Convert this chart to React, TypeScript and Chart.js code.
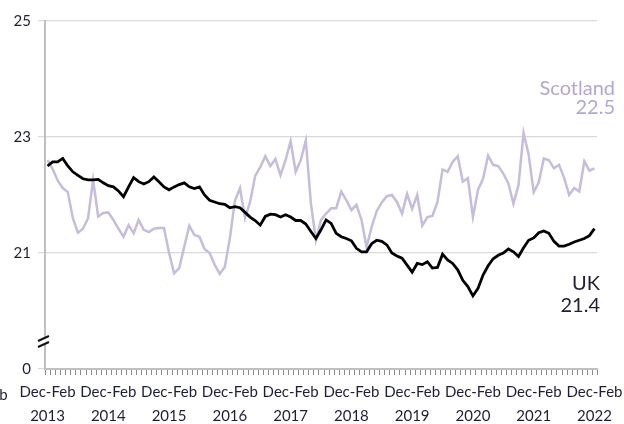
import React, { useEffect, useRef } from 'react';
import { Chart, registerables } from 'chart.js';

Chart.register(...registerables);

const periodLabel = 'Dec-Feb';
const years = ['2013', '2014', '2015', '2016', '2017', '2018', '2019', '2020', '2021', '2022'];
const rollingPeriods = ['Dec-Feb', 'Jan-Mar', 'Feb-Apr', 'Mar-May', 'Apr-Jun', 'May-Jul', 'Jun-Aug', 'Jul-Sep', 'Aug-Oct', 'Sep-Nov', 'Oct-Dec', 'Nov-Jan'];

const ukValues = [
  22.50, 22.57, 22.57, 22.63, 22.50, 22.40, 22.34, 22.28, 22.26, 22.26, 22.27, 22.21,
  22.16, 22.14, 22.07, 21.97, 22.14, 22.30, 22.23, 22.19, 22.23, 22.31, 22.23, 22.14,
  22.09, 22.14, 22.18, 22.21, 22.14, 22.11, 22.14, 22.00, 21.91, 21.88, 21.85, 21.84,
  21.78, 21.80, 21.78, 21.70, 21.62, 21.56, 21.48, 21.63, 21.67, 21.66, 21.62, 21.66,
  21.62, 21.56, 21.56, 21.50, 21.37, 21.25, 21.40, 21.57, 21.51, 21.34, 21.28, 21.25,
  21.21, 21.08, 21.02, 21.02, 21.16, 21.22, 21.20, 21.14, 21.00, 20.95, 20.91, 20.79,
  20.67, 20.82, 20.80, 20.85, 20.74, 20.75, 20.98, 20.88, 20.82, 20.71, 20.53, 20.42,
  20.26, 20.39, 20.62, 20.78, 20.90, 20.96, 21.00, 21.07, 21.02, 20.94, 21.09, 21.22,
  21.26, 21.35, 21.38, 21.34, 21.20, 21.12, 21.12, 21.15, 21.19, 21.22, 21.25, 21.30,
  21.42,
];

const scotlandValues = [
  22.60, 22.45, 22.25, 22.12, 22.05, 21.60, 21.35, 21.42, 21.60, 22.26, 21.63, 21.69,
  21.70, 21.57, 21.42, 21.28, 21.48, 21.34, 21.57, 21.40, 21.36, 21.42, 21.43, 21.43,
  21.00, 20.65, 20.74, 21.11, 21.47, 21.31, 21.28, 21.07, 21.00, 20.80, 20.64, 20.76,
  21.25, 21.90, 22.12, 21.60, 21.88, 22.33, 22.48, 22.67, 22.50, 22.62, 22.34, 22.60,
  22.93, 22.40, 22.60, 22.94, 21.86, 21.22, 21.57, 21.68, 21.77, 21.77, 22.06, 21.91,
  21.74, 21.83, 21.57, 21.10, 21.45, 21.72, 21.87, 21.98, 22.00, 21.88, 21.68, 22.02,
  21.76, 22.00, 21.47, 21.62, 21.64, 21.88, 22.44, 22.40, 22.57, 22.67, 22.23, 22.29,
  21.62, 22.09, 22.28, 22.68, 22.52, 22.50, 22.37, 22.20, 21.85, 22.17, 23.07, 22.70,
  22.05, 22.22, 22.63, 22.60, 22.46, 22.52, 22.30, 22.00, 22.12, 22.06, 22.58, 22.42,
  22.46,
];

const yMin = 19;
const yMax = 25;
const yStep = 2;
const yTickText: Record<number, string> = { 19: '0', 21: '21', 23: '23', 25: '25' };
const breakValue = 19.5;

const seriesNames = ['UK', 'Scotland'];
const endValueText = ['21.4', '22.5'];
const endLabelLevels = [[20.48, 20.1], [23.84, 23.5]];

const categories = ukValues.map((_, i) => {
  const yr = 2013 + Math.floor(i / 12);
  return rollingPeriods[i % 12] + ' ' + yr;
});

const FONT = 'Lato, "Open Sans", sans-serif';
const TEXT = '#1f1f33';
const UK_COLOR = '#000000';
const SCOT_COLOR = '#c6bcdb';
const SCOT_TEXT = '#b3a7d0';

const overlayPlugin = {
  id: 'overlay',
  afterDraw(chart: any) {
    const { ctx, chartArea, scales } = chart;
    const ys = scales.y;
    const xs = scales.x;
    ctx.save();

    // category tick marks along the x axis
    const n = categories.length;
    const half = (xs.getPixelForValue(1) - xs.getPixelForValue(0)) / 2;
    ctx.strokeStyle = '#8a8a8a';
    ctx.lineWidth = 1;
    ctx.beginPath();
    for (let i = 0; i <= n; i++) {
      const px = Math.round(xs.getPixelForValue(Math.min(i, n - 1)) + (i === n ? half : -half)) + 0.5;
      ctx.moveTo(px, chartArea.bottom + 1);
      ctx.lineTo(px, chartArea.bottom + 6);
    }
    ctx.stroke();

    // axis break marks
    const by = ys.getPixelForValue(breakValue);
    const ax = chartArea.left;
    ctx.fillStyle = '#ffffff';
    ctx.beginPath();
    ctx.moveTo(ax - 7, by + 2);
    ctx.lineTo(ax + 4, by - 3);
    ctx.lineTo(ax + 4, by + 2);
    ctx.lineTo(ax - 7, by + 7);
    ctx.closePath();
    ctx.fill();
    ctx.strokeStyle = '#111111';
    ctx.lineWidth = 2;
    ctx.beginPath();
    ctx.moveTo(ax - 7, by + 1);
    ctx.lineTo(ax + 4, by - 4);
    ctx.moveTo(ax - 7, by + 7);
    ctx.lineTo(ax + 4, by + 2);
    ctx.stroke();

    // end labels
    ctx.font = '20px ' + FONT;
    ctx.textAlign = 'right';
    ctx.textBaseline = 'middle';
    ctx.fillStyle = TEXT;
    ctx.fillText(seriesNames[0], chartArea.right + 3, ys.getPixelForValue(endLabelLevels[0][0]));
    ctx.fillText(endValueText[0], chartArea.right + 3, ys.getPixelForValue(endLabelLevels[0][1]));
    ctx.fillStyle = SCOT_TEXT;
    ctx.fillText(seriesNames[1], chartArea.right + 18, ys.getPixelForValue(endLabelLevels[1][0]));
    ctx.fillText(endValueText[1], chartArea.right + 18, ys.getPixelForValue(endLabelLevels[1][1]));

    // clipped previous period label at far left
    ctx.font = '15px ' + FONT;
    ctx.fillStyle = TEXT;
    ctx.textAlign = 'center';
    const step = xs.getPixelForValue(12) - xs.getPixelForValue(0);
    const lx = xs.getPixelForValue(0) - step - 7;
    ctx.fillText(periodLabel, lx, xs.top + 26);
    ctx.restore();
  },
};

export default function App() {
  const ref = useRef<HTMLCanvasElement | null>(null);
  useEffect(() => {
    document.body.style.margin = '0';
    if (!ref.current) return;
    const chart = new Chart(ref.current, {
      type: 'line',
      data: {
        labels: categories,
        datasets: [
          {
            label: seriesNames[0],
            data: ukValues,
            borderColor: UK_COLOR,
            borderWidth: 2.8,
            pointRadius: 0,
            tension: 0,
            fill: false,
          },
          {
            label: seriesNames[1],
            data: scotlandValues,
            borderColor: SCOT_COLOR,
            borderWidth: 2.5,
            pointRadius: 0,
            tension: 0,
            fill: false,
          },
        ],
      },
      options: {
        animation: false,
        responsive: true,
        maintainAspectRatio: false,
        layout: { padding: { left: 0, right: 27, top: 21, bottom: 0 } },
        plugins: {
          legend: { display: false },
          tooltip: { enabled: false },
          title: { display: false },
        },
        scales: {
          x: {
            type: 'category',
            offset: true,
            afterFit: (s: any) => {
              s.height = 55;
              s.paddingLeft = 0;
              s.paddingRight = 0;
            },
            grid: {
              display: false,
              drawTicks: true,
              tickLength: 6,
            },
            border: { display: true, color: '#bfbfbf', width: 2 },
            ticks: {
              autoSkip: false,
              maxRotation: 0,
              minRotation: 0,
              padding: 6,
              color: TEXT,
              font: { family: FONT, size: 15, lineHeight: 1.55 },
              callback: (_v: any, i: number) => (i % 12 === 0 ? [periodLabel, years[i / 12]] : ''),
            },
          },
          y: {
            min: yMin,
            max: yMax,
            afterFit: (s: any) => { s.width = 45; },
            grid: {
              color: '#d9d9d9',
              lineWidth: 1.2,
              tickLength: 7,
            },
            border: { display: true, color: '#bfbfbf', width: 2 },
            ticks: {
              stepSize: yStep,
              padding: 7,
              color: TEXT,
              font: { family: FONT, size: 15 },
              callback: (v: any) => yTickText[v as number] ?? '',
            },
          },
        },
      },
      plugins: [overlayPlugin],
    });
    return () => chart.destroy();
  }, []);
  return (
    <div style={{ width: 624, height: 424, position: 'relative' }}>
      <canvas ref={ref} />
    </div>
  );
}
